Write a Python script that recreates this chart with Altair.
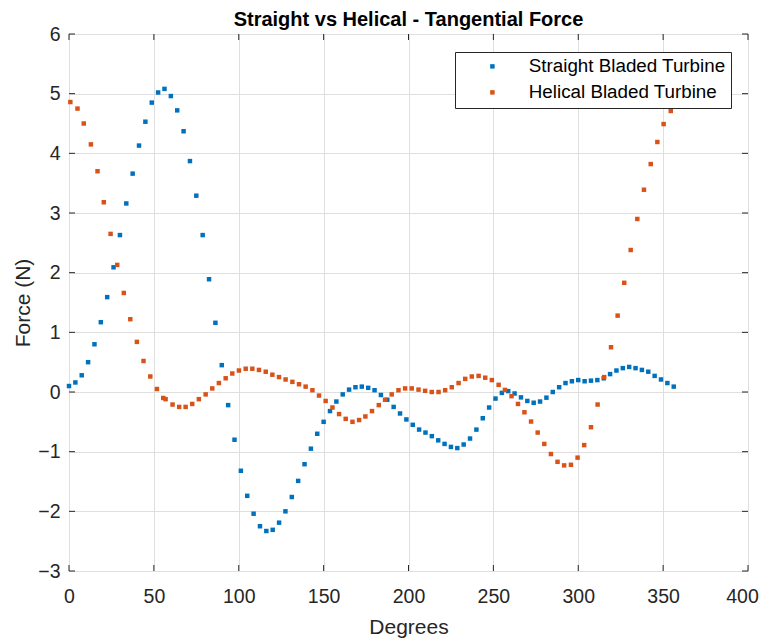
import altair as alt
import pandas as pd

series_names = ["Straight Bladed Turbine", "Helical Bladed Turbine"]
series_colors = ["#0072BD", "#D95319"]

straight_deg = [
    0, 3.75, 7.5, 11.25, 15, 18.75, 22.5, 26.25, 30, 33.75,
    37.5, 41.25, 45, 48.75, 52.5, 56.25, 60, 63.75, 67.5, 71.25,
    75, 78.75, 82.5, 86.25, 90, 93.75, 97.5, 101.25, 105, 108.75,
    112.5, 116.25, 120, 123.75, 127.5, 131.25, 135, 138.75, 142.5, 146.25,
    150, 153.75, 157.5, 161.25, 165, 168.75, 172.5, 176.25, 180, 183.75,
    187.5, 191.25, 195, 198.75, 202.5, 206.25, 210, 213.75, 217.5, 221.25,
    225, 228.75, 232.5, 236.25, 240, 243.75, 247.5, 251.25, 255, 258.75,
    262.5, 266.25, 270, 273.75, 277.5, 281.25, 285, 288.75, 292.5, 296.25,
    300, 303.75, 307.5, 311.25, 315, 318.75, 322.5, 326.25, 330, 333.75,
    337.5, 341.25, 345, 348.75, 352.5, 356.25,
]
straight_force = [
    0.10, 0.16, 0.28, 0.50, 0.80, 1.17, 1.59, 2.09, 2.63, 3.16,
    3.66, 4.13, 4.53, 4.85, 5.02, 5.08, 4.96, 4.72, 4.37, 3.87,
    3.29, 2.63, 1.89, 1.16, 0.45, -0.22, -0.80, -1.32, -1.74, -2.04,
    -2.25, -2.33, -2.31, -2.19, -2.00, -1.76, -1.49, -1.21, -0.95, -0.70,
    -0.50, -0.32, -0.16, -0.04, 0.04, 0.08, 0.09, 0.07, 0.03, -0.05,
    -0.13, -0.25, -0.36, -0.46, -0.55, -0.63, -0.68, -0.74, -0.81, -0.87,
    -0.92, -0.94, -0.88, -0.78, -0.63, -0.44, -0.26, -0.11, -0.015, 0.015,
    -0.025, -0.09, -0.15, -0.18, -0.16, -0.095, 0.0, 0.08, 0.15, 0.18,
    0.20, 0.18, 0.19, 0.20, 0.23, 0.30, 0.36, 0.40, 0.42, 0.40,
    0.37, 0.34, 0.27, 0.21, 0.15, 0.09,
]

helical_deg = [
    0.8, 5.0, 8.7, 12.9, 16.8, 20.5, 24.5, 28.4, 32.3, 36.1,
    40.0, 43.9, 47.9, 51.8, 55.5, 56.9, 61.0, 64.9, 68.7, 72.6,
    76.5, 80.5, 84.4, 88.3, 92.3, 96.2, 100.1, 104.1, 108.0, 111.9,
    115.9, 119.8, 123.7, 127.6, 131.6, 135.5, 139.4, 143.4, 147.3, 151.2,
    155.2, 159.1, 163.0, 167.0, 170.9, 174.6, 178.5, 182.5, 186.2, 190.1,
    194.1, 198.0, 201.9, 205.9, 209.8, 213.7, 217.7, 221.6, 225.5, 229.5,
    233.4, 237.3, 241.3, 245.2, 249.1, 253.1, 256.8, 260.7, 264.5, 268.3,
    272.2, 276.1, 280.0, 283.9, 287.8, 291.7, 295.7, 299.6, 303.5, 307.5,
    311.4, 315.3, 319.3, 323.2, 327.1, 330.9, 334.8, 338.7, 342.7, 346.6,
    350.3, 354.5,
]
helical_force = [
    4.86, 4.75, 4.50, 4.15, 3.70, 3.18, 2.65, 2.13, 1.66, 1.22,
    0.84, 0.52, 0.26, 0.05, -0.10, -0.12, -0.21, -0.25, -0.25, -0.20,
    -0.12, -0.04, 0.06, 0.15, 0.23, 0.31, 0.36, 0.39, 0.39, 0.37,
    0.34, 0.29, 0.25, 0.21, 0.17, 0.13, 0.09, 0.03, -0.06, -0.15,
    -0.26, -0.37, -0.45, -0.50, -0.47, -0.41, -0.32, -0.22, -0.13, -0.04,
    0.03, 0.06, 0.06, 0.04, 0.02, 0.0, 0.0, 0.03, 0.08, 0.15,
    0.22, 0.26, 0.27, 0.24, 0.20, 0.12, 0.035, -0.07, -0.20, -0.34,
    -0.495, -0.68, -0.87, -1.04, -1.17, -1.23, -1.22, -1.10, -0.89, -0.59,
    -0.21, 0.25, 0.75, 1.28, 1.83, 2.38, 2.90, 3.39, 3.82, 4.19,
    4.49, 4.71,
]

x_ticks = [0, 50, 100, 150, 200, 250, 300, 350, 400]
y_ticks = [-3, -2, -1, 0, 1, 2, 3, 4, 5, 6]

df = pd.concat([
    pd.DataFrame({"deg": straight_deg, "force": straight_force, "series": series_names[0]}),
    pd.DataFrame({"deg": helical_deg, "force": helical_force, "series": series_names[1]}),
], ignore_index=True)

W, H = 679, 537
FONT = "Liberation Sans"
INK = "#262626"
GRID = "#dfdfdf"
TICK = 6

x_scale = alt.Scale(domain=[0, 400], nice=False, zero=False)
y_scale = alt.Scale(domain=[-3, 6], nice=False, zero=False)

x_axis = alt.Axis(
    values=x_ticks, title="Degrees", grid=True, gridColor=GRID,
    ticks=False, tickSize=0, domain=False, labelFontSize=19.5,
    labelPadding=31, labelBaseline="alphabetic", labelColor=INK,
    labelFont=FONT, labelFlush=False,
    labelOffset={"condition": {"test": "datum.value == 400", "value": -6}, "value": 0},
    titleFont=FONT, titleFontSize=21,
    titleFontWeight="normal", titleColor=INK, titleY=62,
    titleBaseline="alphabetic")
y_axis = alt.Axis(
    values=y_ticks, title="Force (N)", grid=True, gridColor=GRID,
    ticks=False, tickSize=0, domain=False, labelFontSize=19.5,
    labelPadding=9, labelColor=INK, labelFont=FONT, labelFlush=False,
    titleFont=FONT, titleFontSize=21, titleFontWeight="normal",
    titleColor=INK, titleX=-40, titleY=H / 2, titleAngle=270,
    titleBaseline="alphabetic", titleAlign="center")

points = alt.Chart(df).mark_square(size=20, opacity=1).encode(
    x=alt.X("deg:Q", scale=x_scale, axis=x_axis, title="Degrees"),
    y=alt.Y("force:Q", scale=y_scale, axis=y_axis, title="Force (N)"),
    color=alt.Color("series:N", scale=alt.Scale(domain=series_names, range=series_colors),
                    legend=alt.Legend(
                        title=None, orient="none", legendX=386, legendY=18,
                        symbolType="square", symbolSize=20, labelFontSize=18.8,
                        labelFont=FONT, labelColor="black", padding=5, rowPadding=6,
                        strokeColor=INK, fillColor="white", symbolOffset=23,
                        labelOffset=27, labelLimit=400)),
)

tick_x = pd.DataFrame({"deg": x_ticks})
tick_y = pd.DataFrame({"force": y_ticks})

bottom_ticks = alt.Chart(tick_x).mark_rule(color=INK, strokeWidth=1).encode(
    x=alt.X("deg:Q", scale=x_scale, axis=x_axis, title="Degrees"),
    y=alt.value(H), y2=alt.value(H - TICK))
top_ticks = alt.Chart(tick_x).mark_rule(color=INK, strokeWidth=1).encode(
    x=alt.X("deg:Q", scale=x_scale, axis=x_axis, title="Degrees"),
    y=alt.value(0), y2=alt.value(TICK))
left_ticks = alt.Chart(tick_y).mark_rule(color=INK, strokeWidth=1).encode(
    y=alt.Y("force:Q", scale=y_scale, axis=y_axis, title="Force (N)"),
    x=alt.value(0), x2=alt.value(TICK))
right_ticks = alt.Chart(tick_y).mark_rule(color=INK, strokeWidth=1).encode(
    y=alt.Y("force:Q", scale=y_scale, axis=y_axis, title="Force (N)"),
    x=alt.value(W - TICK), x2=alt.value(W))

chart = alt.layer(points, bottom_ticks, top_ticks, left_ticks, right_ticks).properties(
    width=W, height=H,
    title=alt.Title("Straight vs Helical - Tangential Force", font=FONT, fontSize=20,
                    fontWeight="bold", color="black", anchor="middle", offset=-6,
                    frame="group"),
    padding={"left": 61, "top": 26, "right": 11, "bottom": 68},
    autosize=alt.AutoSizeParams(type="none"),
).configure_view(stroke=INK, strokeWidth=1).configure(background="white")

chart.save("out.html", embed_options={"renderer": "svg", "actions": False})
